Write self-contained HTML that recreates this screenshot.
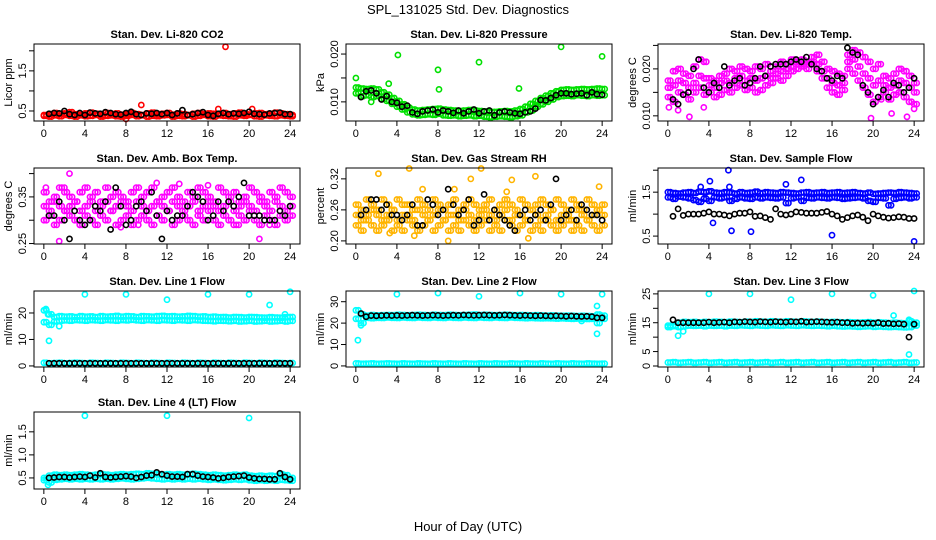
<!DOCTYPE html>
<html><head><meta charset="utf-8"><style>
html,body{margin:0;padding:0;background:#fff;}
svg{display:block;font-family:"Liberation Sans",sans-serif;}
</style></head><body>
<svg id="chart" width="936" height="540" viewBox="0 0 936 540" xmlns="http://www.w3.org/2000/svg">
<text x="468" y="14" text-anchor="middle" font-size="13">SPL_131025  Std. Dev. Diagnostics</text>
<text x="468" y="531" text-anchor="middle" font-size="13">Hour of Day (UTC)</text>
</svg>
<script>
const HOURS=[0,0.5,1,1.5,2,2.5,3,3.5,4,4.5,5,5.5,6,6.5,7,7.5,8,8.5,9,9.5,10,10.5,11,11.5,12,12.5,13,13.5,14,14.5,15,15.5,16,16.5,17,17.5,18,18.5,19,19.5,20,20.5,21,21.5,22,22.5,23,23.5,24];
const X_TICKS=[0,4,8,12,16,20,24];

const co2ColA=[0.40,0.42,0.45,0.43,0.44,0.47,0.42,0.41,0.44,0.46,0.43,0.40,0.45,0.42,0.44,0.41,0.43,0.45,0.42,0.40,0.44,0.46,0.42,0.43,0.45,0.41,0.44,0.42,0.40,0.43,0.45,0.42,0.44,0.43,0.41,0.45,0.42,0.44,0.46,0.43,0.41,0.44,0.45,0.42,0.43,0.46,0.44,0.42,0.40];
const co2ColB=[0.38,0.36,0.39,0.37,0.40,0.38,0.36,0.39,0.37,0.38,0.40,0.36,0.38,0.39,0.37,0.36,0.38,0.40,0.37,0.39,0.36,0.38,0.37,0.39,0.40,0.36,0.38,0.37,0.39,0.36,0.38,0.40,0.37,0.36,0.39,0.38,0.37,0.36,0.39,0.38,0.40,0.37,0.36,0.39,0.38,0.37,0.39,0.38,0.37];
const co2Black=[0.42,0.43,0.45,0.44,0.50,0.42,0.40,0.45,0.40,0.46,0.44,0.43,0.47,0.45,0.42,0.41,0.45,0.48,0.42,0.40,0.44,0.43,0.45,0.42,0.45,0.40,0.44,0.52,0.40,0.42,0.45,0.47,0.40,0.38,0.43,0.45,0.42,0.44,0.43,0.45,0.48,0.43,0.42,0.41,0.44,0.45,0.46,0.42,0.42];
const co2OutX=[17.7,9.5,8.0,17.0,20.3];
const co2OutY=[2.1,0.65,0.30,0.55,0.55];

const presColA=[0.0130,0.0128,0.0127,0.0128,0.0126,0.0120,0.0115,0.0108,0.0102,0.0095,0.0088,0.0084,0.0082,0.0083,0.0084,0.0085,0.0086,0.0084,0.0083,0.0082,0.0081,0.0082,0.0083,0.0082,0.0081,0.0080,0.0079,0.0079,0.0080,0.0081,0.0080,0.0082,0.0085,0.0090,0.0096,0.0102,0.0108,0.0113,0.0118,0.0122,0.0125,0.0126,0.0125,0.0126,0.0127,0.0126,0.0127,0.0128,0.0127];
const presColB=[0.0118,0.0112,0.0114,0.0110,0.0112,0.0106,0.0102,0.0096,0.0090,0.0084,0.0078,0.0074,0.0072,0.0073,0.0074,0.0073,0.0075,0.0072,0.0071,0.0072,0.0070,0.0071,0.0072,0.0070,0.0071,0.0069,0.0068,0.0069,0.0070,0.0069,0.0068,0.0070,0.0072,0.0078,0.0082,0.0090,0.0095,0.0100,0.0105,0.0110,0.0112,0.0113,0.0112,0.0114,0.0113,0.0112,0.0114,0.0113,0.0114];
const presBlack=[0.0120,0.0110,0.0122,0.0124,0.0118,0.0105,0.0112,0.0100,0.0098,0.0090,0.0092,0.0078,0.0075,0.0080,0.0082,0.0084,0.0078,0.0082,0.0080,0.0077,0.0082,0.0076,0.0080,0.0084,0.0076,0.0080,0.0082,0.0072,0.0078,0.0080,0.0078,0.0076,0.0075,0.0078,0.0080,0.0086,0.0104,0.0103,0.0108,0.0114,0.0118,0.0118,0.0116,0.0117,0.0118,0.0114,0.0120,0.0116,0.0115];
const presOutX=[0,4.1,8,8.1,12,15.9,20,24,3.2,1.5];
const presOutY=[0.0150,0.0198,0.0167,0.0126,0.0183,0.0128,0.0215,0.0195,0.0138,0.0100];

const tempColA=[0.0175,0.0195,0.0200,0.0190,0.0185,0.0205,0.0220,0.0215,0.0180,0.0175,0.0185,0.0190,0.0200,0.0195,0.0205,0.0200,0.0195,0.0205,0.0200,0.0210,0.0195,0.0205,0.0215,0.0210,0.0220,0.0215,0.0220,0.0215,0.0225,0.0230,0.0215,0.0200,0.0195,0.0190,0.0185,0.0230,0.0240,0.0235,0.0225,0.0215,0.0200,0.0210,0.0185,0.0180,0.0190,0.0200,0.0195,0.0185,0.0170];
const tempColB=[0.0140,0.0130,0.0150,0.0145,0.0135,0.0150,0.0160,0.0145,0.0150,0.0140,0.0145,0.0155,0.0150,0.0160,0.0165,0.0155,0.0160,0.0150,0.0155,0.0165,0.0170,0.0180,0.0175,0.0185,0.0195,0.0200,0.0205,0.0200,0.0210,0.0195,0.0180,0.0160,0.0150,0.0145,0.0155,0.0200,0.0190,0.0175,0.0160,0.0145,0.0130,0.0140,0.0150,0.0135,0.0145,0.0150,0.0140,0.0130,0.0125];
const tempColC=[0.0160,0.0165,0.0175,0.0170,0.0160,0.0170,0.0185,0.0180,0.0165,0.0160,0.0170,0.0175,0.0170,0.0180,0.0185,0.0175,0.0180,0.0175,0.0180,0.0185,0.0180,0.0190,0.0195,0.0200,0.0205,0.0210,0.0210,0.0210,0.0215,0.0210,0.0195,0.0180,0.0170,0.0165,0.0170,0.0215,0.0220,0.0205,0.0190,0.0180,0.0165,0.0175,0.0165,0.0160,0.0165,0.0175,0.0170,0.0160,0.0150];
const tempBlack=[0.0135,0.0135,0.0125,0.0145,0.0150,0.0200,0.0220,0.0160,0.0150,0.0170,0.0160,0.0205,0.0165,0.0175,0.0180,0.0165,0.0170,0.0180,0.0205,0.0185,0.0205,0.0210,0.0210,0.0210,0.0215,0.0220,0.0215,0.0225,0.0210,0.0200,0.0195,0.0180,0.0175,0.0185,0.0180,0.0245,0.0235,0.0230,0.0165,0.0150,0.0125,0.0140,0.0155,0.0140,0.0170,0.0165,0.0150,0.0160,0.0180];
const tempOutX=[0.1,1.0,2.1,3.5,19.8,20.8,21.8,23.3,24];
const tempOutY=[0.0118,0.0112,0.0098,0.0118,0.0095,0.0135,0.0105,0.0098,0.0115];

const ambColA=[0.36,0.34,0.35,0.37,0.36,0.35,0.34,0.36,0.37,0.35,0.36,0.34,0.37,0.35,0.36,0.35,0.34,0.36,0.37,0.35,0.36,0.37,0.34,0.35,0.36,0.37,0.35,0.34,0.36,0.35,0.37,0.36,0.35,0.34,0.37,0.36,0.35,0.36,0.34,0.35,0.37,0.36,0.35,0.34,0.36,0.35,0.37,0.36,0.35];
const ambColB=[0.30,0.31,0.29,0.30,0.32,0.31,0.30,0.29,0.31,0.30,0.29,0.31,0.30,0.32,0.29,0.30,0.31,0.29,0.30,0.31,0.30,0.29,0.31,0.30,0.32,0.29,0.30,0.31,0.30,0.29,0.31,0.30,0.32,0.30,0.29,0.31,0.30,0.29,0.31,0.30,0.32,0.30,0.29,0.31,0.30,0.29,0.31,0.30,0.31];
const ambColC=[0.33,0.32,0.34,0.33,0.32,0.33,0.34,0.32,0.33,0.34,0.32,0.33,0.34,0.32,0.33,0.34,0.33,0.32,0.34,0.33,0.32,0.33,0.34,0.33,0.32,0.34,0.33,0.32,0.33,0.34,0.32,0.33,0.34,0.33,0.32,0.33,0.34,0.32,0.33,0.34,0.33,0.32,0.34,0.33,0.32,0.34,0.33,0.32,0.33];
const ambBlack=[0.31,0.31,0.31,0.34,0.30,0.26,0.32,0.30,0.29,0.30,0.33,0.32,0.34,0.28,0.37,0.33,0.29,0.30,0.33,0.34,0.32,0.36,0.31,0.26,0.32,0.30,0.31,0.31,0.33,0.36,0.35,0.34,0.30,0.31,0.34,0.32,0.34,0.33,0.35,0.38,0.31,0.31,0.31,0.30,0.30,0.30,0.32,0.31,0.33];
const ambOutX=[0.2,2.5,1.5,21,16,13.2,7.5,19,9.2,3.5,22,11,2];
const ambOutY=[0.37,0.40,0.255,0.26,0.375,0.378,0.285,0.29,0.29,0.29,0.29,0.38,0.37];

const rhColA=[0.27,0.26,0.28,0.27,0.26,0.28,0.27,0.26,0.28,0.27,0.27,0.26,0.28,0.27,0.26,0.28,0.27,0.26,0.27,0.28,0.26,0.27,0.28,0.27,0.26,0.27,0.28,0.26,0.27,0.28,0.27,0.26,0.28,0.27,0.26,0.27,0.28,0.27,0.26,0.28,0.27,0.26,0.28,0.27,0.26,0.28,0.27,0.26,0.27];
const rhColB=[0.23,0.22,0.24,0.23,0.22,0.23,0.24,0.22,0.23,0.22,0.24,0.23,0.22,0.23,0.24,0.22,0.23,0.24,0.22,0.23,0.22,0.24,0.23,0.22,0.23,0.24,0.22,0.23,0.22,0.24,0.23,0.22,0.23,0.24,0.22,0.23,0.22,0.24,0.23,0.22,0.23,0.24,0.22,0.23,0.22,0.24,0.23,0.22,0.23];
const rhColC=[0.25,0.24,0.25,0.26,0.25,0.24,0.25,0.26,0.24,0.25,0.25,0.24,0.26,0.25,0.24,0.25,0.26,0.24,0.25,0.25,0.24,0.26,0.25,0.24,0.25,0.26,0.25,0.24,0.25,0.26,0.24,0.25,0.25,0.24,0.26,0.25,0.24,0.25,0.26,0.24,0.25,0.25,0.24,0.26,0.25,0.24,0.25,0.26,0.25];
const rhBlack=[0.24,0.25,0.26,0.28,0.28,0.26,0.27,0.25,0.25,0.24,0.25,0.27,0.23,0.23,0.28,0.27,0.25,0.26,0.30,0.27,0.25,0.26,0.28,0.23,0.24,0.29,0.24,0.26,0.25,0.24,0.23,0.22,0.25,0.26,0.24,0.25,0.26,0.24,0.27,0.32,0.24,0.25,0.26,0.24,0.27,0.26,0.25,0.25,0.24];
const rhOutX=[2.2,5.2,12.2,11.2,17.5,15.2,9,5.7,16.8,23.7,6.5,9.6,3.3,14.7];
const rhOutY=[0.33,0.34,0.34,0.32,0.325,0.318,0.20,0.21,0.205,0.305,0.30,0.30,0.215,0.295];

const flowColA=[1.50,1.48,1.47,1.49,1.50,1.48,1.51,1.50,1.52,1.49,1.48,1.50,1.49,1.47,1.50,1.48,1.49,1.51,1.48,1.50,1.49,1.48,1.50,1.49,1.48,1.47,1.49,1.50,1.48,1.49,1.50,1.48,1.49,1.50,1.48,1.49,1.50,1.48,1.47,1.49,1.46,1.47,1.48,1.49,1.48,1.50,1.49,1.48,1.47];
const flowColB=[1.38,1.35,1.40,1.38,1.36,1.32,1.28,1.35,1.30,1.38,1.36,1.38,1.30,1.35,1.38,1.36,1.35,1.38,1.36,1.38,1.37,1.36,1.38,1.25,1.36,1.38,1.30,1.37,1.36,1.38,1.37,1.36,1.38,1.37,1.35,1.36,1.37,1.38,1.36,1.30,1.28,1.37,1.36,1.20,1.35,1.37,1.38,1.36,1.38];
const flowBlack=[0.95,0.95,1.12,0.97,1.00,1.00,1.00,1.02,1.05,1.00,1.00,0.98,0.96,1.00,1.02,1.02,1.05,0.95,0.96,0.92,0.88,1.12,1.00,0.98,1.00,1.05,1.04,1.02,1.02,1.02,1.04,1.06,1.00,0.96,0.88,0.92,0.96,0.98,0.93,0.85,1.00,0.96,0.93,0.91,0.92,0.94,0.93,0.90,0.90];
const flowOutX=[5.9,4.1,13,11.5,6.2,8.1,4.4,16,24,3.2,6];
const flowOutY=[2.0,1.75,1.78,1.68,0.62,0.60,0.80,0.52,0.38,1.62,1.62];

const l1ColA=[21,19.5,18.5,18.8,18.6,18.7,18.5,18.8,18.6,18.7,18.5,18.8,18.6,18.7,18.9,18.6,18.8,18.7,18.5,18.8,18.7,18.6,18.8,18.9,18.7,18.8,18.6,18.7,18.9,18.8,18.6,18.7,18.5,18.6,18.4,18.5,18.3,18.5,18.4,18.3,18.5,18.4,18.3,18.2,18.4,18.3,18.2,18.4,18.5];
const l1ColB=[16.5,15.5,16.8,17.0,17.2,17.1,17.3,17.2,17.1,17.3,17.2,17.1,17.3,17.2,17.1,17.3,17.2,17.4,17.2,17.1,17.3,17.2,17.1,17.3,17.2,17.1,17.3,17.2,17.1,17.3,17.2,17.1,17.0,16.9,17.1,17.0,16.9,17.0,16.8,16.9,17.0,16.8,16.9,17.0,16.8,16.9,17.0,16.8,17.0];
const l1ColLow=[1.2,1.0,1.1,1.2,1.0,1.1,1.2,1.1,1.0,1.2,1.1,1.0,1.2,1.1,1.0,1.2,1.1,1.0,1.2,1.1,1.0,1.2,1.1,1.0,1.2,1.1,1.0,1.2,1.1,1.0,1.2,1.1,1.0,1.2,1.1,1.0,1.2,1.1,1.0,1.2,1.1,1.0,1.2,1.1,1.0,1.2,1.1,1.0,1.1];
const l1Black=[1.0,1.0,1.0,1.0,1.0,1.0,1.0,1.0,1.0,1.0,1.0,1.0,1.0,1.0,1.0,1.0,1.0,1.0,1.0,1.0,1.0,1.0,1.0,1.0,1.0,1.0,1.0,1.0,1.0,1.0,1.0,1.0,1.0,1.0,1.0,1.0,1.0,1.0,1.0,1.0,1.0,1.0,1.0,1.0,1.0,1.0,1.0,1.0,1.0];
const l1OutX=[4,8,12,16,20,24,22,0.5,0.2,0.4,1.5,23.5];
const l1OutY=[27,27,25,27,27,28,23,9.5,21.5,19.5,15,19.5];

const l2ColA=[26,24,23.5,23.8,23.6,23.7,23.8,23.7,23.9,23.8,23.7,23.8,23.9,23.8,23.7,23.9,23.8,23.7,23.9,23.8,23.7,23.8,23.9,24,23.8,23.9,23.8,23.7,23.8,23.9,23.8,23.7,23.8,23.7,23.6,23.7,23.6,23.5,23.6,23.5,23.4,23.5,23.4,23.3,23.4,23.3,23.2,24,23.5];
const l2ColB=[22,20,22.5,22.3,22.5,22.4,22.6,22.5,22.4,22.6,22.5,22.4,22.6,22.5,22.4,22.6,22.5,22.4,22.6,22.5,22.4,22.6,22.5,22.4,22.6,22.5,22.4,22.6,22.5,22.4,22.6,22.5,22.4,22.3,22.4,22.3,22.2,22.3,22.2,22.1,22.2,22.1,22.0,22.1,22.0,21.9,22.0,20,22];
const l2ColLow=[1.2,1.0,1.1,1.2,1.0,1.1,1.2,1.1,1.0,1.2,1.1,1.0,1.2,1.1,1.0,1.2,1.1,1.0,1.2,1.1,1.0,1.2,1.1,1.0,1.2,1.1,1.0,1.2,1.1,1.0,1.2,1.1,1.0,1.2,1.1,1.0,1.2,1.1,1.0,1.2,1.1,1.0,1.2,1.1,1.0,1.2,1.1,1.0,1.1];
const l2Black=[22,24.5,23,23.5,23.4,23.5,23.6,23.5,23.6,23.5,23.6,23.7,23.6,23.5,23.6,23.7,23.6,23.5,23.6,23.7,23.6,23.8,23.7,23.6,23.7,23.8,23.7,23.6,23.7,23.8,23.7,23.6,23.5,23.6,23.5,23.4,23.5,23.4,23.3,23.4,23.3,23.2,23.3,23.2,23.1,23.2,23.0,22.5,22.5];
const l2OutX=[4,8,12,16,20,24,0.2,0.5,23.5,23.5,22];
const l2OutY=[33.5,34,32.5,34,33.5,33.5,12,19,15,28,21];

const l3ColA=[14,14,15,15.3,15.2,15.3,15.1,15.3,15.2,15.4,15.3,15.2,15.4,15.3,15.2,15.4,15.3,15.5,15.4,15.3,15.5,15.4,15.3,15.5,15.4,15.3,15.5,15.4,15.3,15.4,15.3,15.2,15.3,15.2,15.1,15.2,15.1,15.0,15.1,15.2,15.0,15.1,15.0,14.9,15.0,14.9,14.8,15.5,15];
const l3ColB=[13.5,13.8,13.5,13.8,14,13.9,14,13.8,14,13.9,14,13.8,14,13.9,14.1,14,13.9,14.1,14,13.9,14.1,14,13.9,14.1,14,13.9,14.1,14,13.9,14,13.9,13.8,13.9,13.8,13.7,13.8,13.7,13.6,13.7,13.8,13.6,13.7,13.6,13.5,13.6,13.5,13.4,13.5,14];
const l3ColLow=[1.2,1.3,1.1,1.2,1.3,1.1,1.2,1.3,1.1,1.2,1.3,1.1,1.2,1.3,1.1,1.2,1.3,1.1,1.2,1.3,1.1,1.2,1.3,1.1,1.2,1.3,1.1,1.2,1.3,1.1,1.2,1.3,1.1,1.2,1.3,1.1,1.2,1.3,1.1,1.2,1.3,1.1,1.2,1.3,1.1,1.2,1.3,1.1,1.2];
const l3Black=[15,16,15,15,15,15,15,15,15.2,15,15.1,15.2,15,15.3,15.2,15.4,15.3,15.2,15.4,15.3,15.2,15.4,15.3,15.2,15.4,15.3,15.5,15.2,15.3,15.4,15.3,15.2,15.1,15.2,15,15,14.8,14.9,14.8,14.9,14.8,15,14.7,14.8,14.6,14.7,14.5,10,14.5];
const l3OutX=[4,8,12,16,20,24,1,1.5,22,23.5,23.5];
const l3OutY=[25,25,23,25,24.5,26,10.5,12,17.5,16,4];

const l4ColA=[0.50,0.55,0.57,0.56,0.57,0.56,0.57,0.58,0.57,0.56,0.57,0.58,0.57,0.56,0.57,0.58,0.57,0.58,0.59,0.58,0.60,0.59,0.58,0.57,0.58,0.57,0.58,0.57,0.58,0.59,0.58,0.57,0.56,0.57,0.56,0.55,0.56,0.57,0.56,0.57,0.55,0.54,0.55,0.54,0.55,0.54,0.58,0.56,0.50];
const l4ColB=[0.45,0.40,0.46,0.47,0.48,0.47,0.48,0.47,0.48,0.47,0.48,0.47,0.48,0.47,0.48,0.49,0.48,0.47,0.48,0.49,0.50,0.49,0.48,0.47,0.48,0.47,0.48,0.47,0.48,0.47,0.48,0.47,0.46,0.47,0.46,0.45,0.46,0.47,0.46,0.47,0.45,0.44,0.45,0.44,0.45,0.44,0.46,0.45,0.44];
const l4Black=[0.50,0.50,0.51,0.52,0.52,0.51,0.52,0.53,0.52,0.55,0.51,0.60,0.52,0.51,0.52,0.53,0.54,0.53,0.50,0.52,0.55,0.56,0.62,0.58,0.55,0.53,0.53,0.52,0.58,0.58,0.55,0.53,0.52,0.51,0.49,0.50,0.52,0.53,0.54,0.55,0.51,0.49,0.48,0.48,0.47,0.47,0.60,0.52,0.47];
const l4OutX=[4,12,20,0.4];
const l4OutY=[1.85,1.85,1.80,0.35];

const panels=[
 {id:'co2',title:'Stan. Dev. Li-820 CO2',ylab:'Licor ppm',col:'#ff0000',box:[34,44,300,121],dom:[0.25,2.17],ticks:[0.5,1,1.5,2],labels:['0.5','','1.5',''],series:[co2ColA,co2ColB],black:co2Black,ox:co2OutX,oy:co2OutY},
 {id:'pressure',title:'Stan. Dev. Li-820 Pressure',ylab:'kPa',col:'#00e000',box:[346,44,612,121],dom:[0.0060,0.0221],ticks:[0.010,0.015,0.020],labels:['0.010','','0.020'],series:[presColA,presColB],black:presBlack,ox:presOutX,oy:presOutY},
 {id:'li820-temp',title:'Stan. Dev. Li-820 Temp.',ylab:'degrees C',col:'#ff00ff',box:[658,44,924,121],dom:[0.0089,0.0253],ticks:[0.010,0.015,0.020,0.025],labels:['0.010','','0.020',''],series:[tempColA,tempColB,tempColC],black:tempBlack,ox:tempOutX,oy:tempOutY},
 {id:'amb-temp',title:'Stan. Dev. Amb. Box Temp.',ylab:'degrees C',col:'#ff00ff',box:[34,168,300,244],dom:[0.249,0.412],ticks:[0.25,0.30,0.35,0.40],labels:['0.25','','0.35',''],series:[ambColA,ambColB,ambColC],black:ambBlack,ox:ambOutX,oy:ambOutY},
 {id:'rh',title:'Stan. Dev. Gas Stream RH',ylab:'percent',col:'#ffb400',box:[346,168,612,244],dom:[0.194,0.341],ticks:[0.20,0.26,0.32],labels:['0.20','0.26','0.32'],series:[rhColA,rhColB,rhColC],black:rhBlack,ox:rhOutX,oy:rhOutY},
 {id:'sample-flow',title:'Stan. Dev. Sample Flow',ylab:'ml/min',col:'#0000ff',box:[658,168,924,244],dom:[0.32,2.05],ticks:[0.5,1,1.5,2],labels:['0.5','','1.5',''],series:[flowColA,flowColB],black:flowBlack,ox:flowOutX,oy:flowOutY},
 {id:'line1',title:'Stan. Dev. Line 1 Flow',ylab:'ml/min',col:'#00ffff',box:[34,291,300,367],dom:[-0.4,28.3],ticks:[0,10,20],labels:['0','10','20'],series:[l1ColA,l1ColB,l1ColLow],black:l1Black,ox:l1OutX,oy:l1OutY},
 {id:'line2',title:'Stan. Dev. Line 2 Flow',ylab:'ml/min',col:'#00ffff',box:[346,291,612,367],dom:[-0.5,35],ticks:[0,10,20,30],labels:['0','10','20','30'],series:[l2ColA,l2ColB,l2ColLow],black:l2Black,ox:l2OutX,oy:l2OutY},
 {id:'line3',title:'Stan. Dev. Line 3 Flow',ylab:'ml/min',col:'#00ffff',box:[658,291,924,367],dom:[-0.35,26],ticks:[0,5,10,15,20,25],labels:['0','5','','15','','25'],series:[l3ColA,l3ColB,l3ColLow],black:l3Black,ox:l3OutX,oy:l3OutY},
 {id:'line4',title:'Stan. Dev. Line 4 (LT) Flow',ylab:'ml/min',col:'#00ffff',box:[34,412,300,489],dom:[0.26,1.93],ticks:[0.5,1.0,1.5],labels:['0.5','1.0','1.5'],series:[l4ColA,l4ColB],black:l4Black,ox:l4OutX,oy:l4OutY}
];

const NS='http://www.w3.org/2000/svg';
const svg=document.getElementById('chart');
function mk(tag,attrs,parent){const e=document.createElementNS(NS,tag);for(const k in attrs)e.setAttribute(k,attrs[k]);parent.appendChild(e);return e;}

panels.forEach(p=>{
  const [x0,y0,x1,y1]=p.box;
  const g=mk('g',{},svg);
  
  
  const xs=h=>x0+(h+0.96)/25.92*(x1-x0);
  const ys=v=>y1-(v-p.dom[0])/(p.dom[1]-p.dom[0])*(y1-y0);
  const t=mk('text',{x:(x0+x1)/2,y:y0-6,'text-anchor':'middle','font-size':'11','font-weight':'bold'},g);
  t.textContent=p.title;
  
  
  // points
  const pts=mk('g',{fill:'none','stroke-width':'1.6'},g);
  
  
  p.series.forEach(s=>{
    s.forEach((v,i)=>{
      const c=mk('circle',{cx:xs(HOURS[i]).toFixed(1),cy:ys(v).toFixed(1),r:'2.6',stroke:p.col},pts);
      
      
      const c2=mk('circle',{cx:xs(HOURS[i]+0.25).toFixed(1),cy:ys(v).toFixed(1),r:'2.6',stroke:p.col},pts);
      
      
    });
  });
  p.ox.forEach((h,i)=>{
    const c=mk('circle',{cx:xs(h).toFixed(1),cy:ys(p.oy[i]).toFixed(1),r:'2.6',stroke:p.col},pts);
    
    
  });
  p.black.forEach((v,i)=>{
    if(HOURS[i]<0.5)return;
    const c=mk('circle',{cx:xs(HOURS[i]).toFixed(1),cy:ys(v).toFixed(1),r:'2.6',stroke:'#000'},pts);
    
    
  });
  const frame=mk('rect',{x:x0,y:y0,width:x1-x0,height:y1-y0,fill:'none',stroke:'#000','stroke-width':'1'},g);
  
  
  // x axis
  const xa=mk('g',{stroke:'#000','stroke-width':'1'},g);
  
  
  mk('line',{x1:xs(0),y1:y1,x2:xs(24),y2:y1},xa);
  X_TICKS.forEach(h=>{
    mk('line',{x1:xs(h),y1:y1,x2:xs(h),y2:y1+5},xa);
    const tl=mk('text',{x:xs(h),y:y1+16,'text-anchor':'middle','font-size':'11',stroke:'none',fill:'#000'},xa);
    tl.textContent=h;
    
    
  });
  // y axis
  const ya=mk('g',{stroke:'#000','stroke-width':'1'},g);
  
  
  mk('line',{x1:x0,y1:ys(p.ticks[0]),x2:x0,y2:ys(p.ticks[p.ticks.length-1])},ya);
  p.ticks.forEach((v,i)=>{
    const yy=ys(v);
    mk('line',{x1:x0-5,y1:yy,x2:x0,y2:yy},ya);
    if(p.labels[i]){
      const tl=mk('text',{x:0,y:0,'text-anchor':'middle','font-size':'11',stroke:'none',fill:'#000',transform:`translate(${x0-8},${yy}) rotate(-90)`},ya);
      tl.textContent=p.labels[i];
      
      
    }
  });
  const yl=mk('text',{x:0,y:0,'text-anchor':'middle','font-size':'11',transform:`translate(${x0-22},${(y0+y1)/2}) rotate(-90)`},g);
  yl.textContent=p.ylab;
  
  
});
</script>
</body></html>
